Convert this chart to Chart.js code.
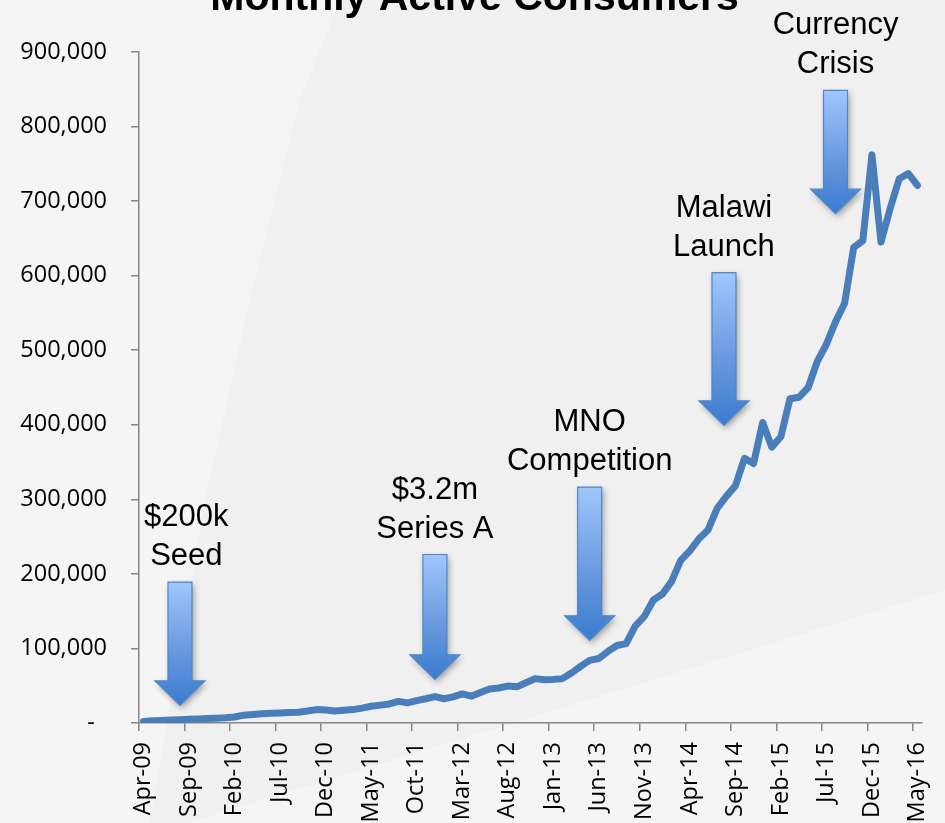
<!DOCTYPE html>
<html>
<head>
<meta charset="utf-8">
<script src="https://cdn.jsdelivr.net/npm/chart.js@4.4.1/dist/chart.umd.min.js"></script>
<style>
  html, body { margin: 0; padding: 0; }
  body { width: 945px; height: 823px; overflow: hidden; background: #f0f0f0; position: relative; }
  .sweep { position: absolute; left: 0; top: 0; width: 945px; height: 823px; }
  #wrap { position: absolute; left: 0; top: 0; width: 945px; height: 823px; }
</style>
</head>
<body>
<div class="sweep" style="background:#f5f5f5; clip-path: polygon(0 0, 340px 0, 300px 100px, 250px 300px, 205px 500px, 150px 823px, 0 823px);"></div>
<div class="sweep" style="background:#f5f5f5; clip-path: polygon(100px 850px, 945px 590px, 945px 823px);"></div>
<div id="wrap"><canvas id="chart" width="945" height="823"></canvas></div>
<script>
// --- data ---
const titleText = 'Monthly Active Consumers';

const months = [
  'Apr-09', 'May-09', 'Jun-09', 'Jul-09', 'Aug-09', 'Sep-09', 'Oct-09', 'Nov-09', 'Dec-09',
  'Jan-10', 'Feb-10', 'Mar-10', 'Apr-10', 'May-10', 'Jun-10', 'Jul-10', 'Aug-10', 'Sep-10', 'Oct-10', 'Nov-10', 'Dec-10',
  'Jan-11', 'Feb-11', 'Mar-11', 'Apr-11', 'May-11', 'Jun-11', 'Jul-11', 'Aug-11', 'Sep-11', 'Oct-11', 'Nov-11', 'Dec-11',
  'Jan-12', 'Feb-12', 'Mar-12', 'Apr-12', 'May-12', 'Jun-12', 'Jul-12', 'Aug-12', 'Sep-12', 'Oct-12', 'Nov-12', 'Dec-12',
  'Jan-13', 'Feb-13', 'Mar-13', 'Apr-13', 'May-13', 'Jun-13', 'Jul-13', 'Aug-13', 'Sep-13', 'Oct-13', 'Nov-13', 'Dec-13',
  'Jan-14', 'Feb-14', 'Mar-14', 'Apr-14', 'May-14', 'Jun-14', 'Jul-14', 'Aug-14', 'Sep-14', 'Oct-14', 'Nov-14', 'Dec-14',
  'Jan-15', 'Feb-15', 'Mar-15', 'Apr-15', 'May-15', 'Jun-15', 'Jul-15', 'Aug-15', 'Sep-15', 'Oct-15', 'Nov-15', 'Dec-15',
  'Jan-16', 'Feb-16', 'Mar-16', 'Apr-16', 'May-16'
];

// monthly active consumers
const consumers = [
  2000, 3000, 3500, 4000, 4500, 5000, 5500, 6000, 6500, 7000,
  8000, 10500, 11500, 12500, 13000, 13500, 14000, 14500, 16000, 18000,
  17500, 16000, 17000, 18000, 20000, 22500, 24000, 25500, 29000, 27000,
  30000, 32500, 35500, 32500, 35000, 39000, 36000, 41000, 45500, 47000,
  49500, 48500, 54000, 59500, 58000, 58500, 59500, 67000, 76000, 84000,
  86500, 96000, 104000, 106500, 130000, 143000, 165000, 173000, 190000, 218000,
  231000, 247000, 259000, 288000, 304000, 318000, 355000, 348000, 403000, 370000,
  384000, 435000, 437000, 450000, 485000, 508000, 538000, 563000, 638000, 647000,
  762000, 645000, 690000, 730000, 737000, 721000
];

const yMax = 900000;
const yStep = 100000;
const labelEvery = 5;

// event call-outs: text, month position, arrow top value, arrow tip value
const noteText = [['$200k', 'Seed'], ['$3.2m', 'Series A'], ['MNO', 'Competition'], ['Malawi', 'Launch'], ['Currency', 'Crisis']];
const noteAt = [4, 32, 49, 63.75, 76];
const noteTextAt = [4.7, 32, 49, 63.75, 76];
const noteTop = [189000, 226000, 316500, 604000, 848500];
const noteTip = [23700, 58600, 110900, 399300, 683200];

const AXIS = '#868686';
const LINE = '#4a7ebb';
const TICK_FONT = { family: 'Open Sans', size: 23.5 };

function drawArrow(ctx, cx, top, tip) {
  const shaftHalf = 12, headHalf = 25, headLen = 24.5;
  const neck = tip - headLen;
  ctx.beginPath();
  ctx.moveTo(cx - shaftHalf, top);
  ctx.lineTo(cx + shaftHalf, top);
  ctx.lineTo(cx + shaftHalf, neck);
  ctx.lineTo(cx + headHalf, neck);
  ctx.lineTo(cx, tip);
  ctx.lineTo(cx - headHalf, neck);
  ctx.lineTo(cx - shaftHalf, neck);
  ctx.closePath();
  const g = ctx.createLinearGradient(0, top, 0, tip);
  g.addColorStop(0, '#a0c6fd');
  g.addColorStop(0.6, '#6596dc');
  g.addColorStop(1, '#3a7bd0');
  ctx.shadowColor = 'rgba(0,0,0,0.35)';
  ctx.shadowBlur = 6;
  ctx.shadowOffsetX = 2;
  ctx.shadowOffsetY = 3;
  ctx.fillStyle = g;
  ctx.fill();
  ctx.shadowColor = 'rgba(0,0,0,0)';
  ctx.strokeStyle = '#4f86c9';
  ctx.lineWidth = 1.2;
  ctx.stroke();
}

const notesPlugin = {
  id: 'notes',
  beforeDraw(chart) {
    const ctx = chart.ctx;
    ctx.save();
    ctx.font = 'bold 41px "Liberation Sans", Arial, sans-serif';
    ctx.fillStyle = '#000';
    ctx.textAlign = 'center';
    ctx.textBaseline = 'alphabetic';
    ctx.fillText(titleText, chart.width / 2 + 2, 10);
    ctx.restore();
  },
  afterDatasetsDraw(chart) {
    const ctx = chart.ctx;
    const xs = chart.scales.x, ys = chart.scales.y;
    ctx.save();
    for (let i = 0; i < noteText.length; i++) {
      const cx = xs.getPixelForValue(noteAt[i]);
      const top = ys.getPixelForValue(noteTop[i]);
      const tip = ys.getPixelForValue(noteTip[i]);
      drawArrow(ctx, cx, top, tip);

      const tx = xs.getPixelForValue(noteTextAt[i]);
      ctx.font = '31px "Liberation Sans", Arial, sans-serif';
      ctx.fillStyle = '#000';
      ctx.textAlign = 'center';
      ctx.textBaseline = 'alphabetic';
      ctx.fillText(noteText[i][1], tx, top - 17);
      ctx.fillText(noteText[i][0], tx, top - 17 - 39);
    }
    ctx.restore();
  }
};

new Chart(document.getElementById('chart'), {
  type: 'line',
  data: {
    labels: months,
    datasets: [{
      label: titleText,
      data: consumers,
      borderColor: LINE,
      backgroundColor: LINE,
      borderWidth: 7,
      pointRadius: 0,
      tension: 0,
      fill: false,
      borderJoinStyle: 'round',
      borderCapStyle: 'round'
    }]
  },
  options: {
    responsive: false,
    animation: false,
    devicePixelRatio: 1,
    layout: { padding: { top: 52, right: 23, left: 0, bottom: 0 } },
    plugins: {
      legend: { display: false },
      tooltip: { enabled: false },
      title: { display: false }
    },
    scales: {
      x: {
        type: 'category',
        offset: true,
        grid: {
          offset: true,
          drawOnChartArea: false,
          tickLength: 8,
          lineWidth: 1.5,
          color: ctx => (ctx.index !== undefined && ctx.index % labelEvery === 0) ? AXIS : 'rgba(0,0,0,0)'
        },
        border: { color: AXIS, width: 1.5 },
        ticks: {
          autoSkip: false,
          maxRotation: 90,
          minRotation: 90,
          padding: 11,
          color: '#000',
          font: TICK_FONT,
          callback: (v, i) => (i % labelEvery === 0 ? months[i] : '')
        },
        afterFit: s => {
          s.height = 100;
          s.paddingLeft = 0;
          s.paddingRight = 0;
        }
      },
      y: {
        min: 0,
        max: yMax,
        grid: { drawOnChartArea: false, tickLength: 8, lineWidth: 1.5, color: AXIS },
        border: { color: AXIS, width: 1.5 },
        ticks: {
          stepSize: yStep,
          padding: 24,
          color: '#000',
          font: TICK_FONT,
          callback: v => (v === 0 ? '-  ' : v.toLocaleString('en-US'))
        },
        afterFit: s => { s.width = 139; }
      }
    }
  },
  plugins: [notesPlugin]
});
</script>
</body>
</html>
